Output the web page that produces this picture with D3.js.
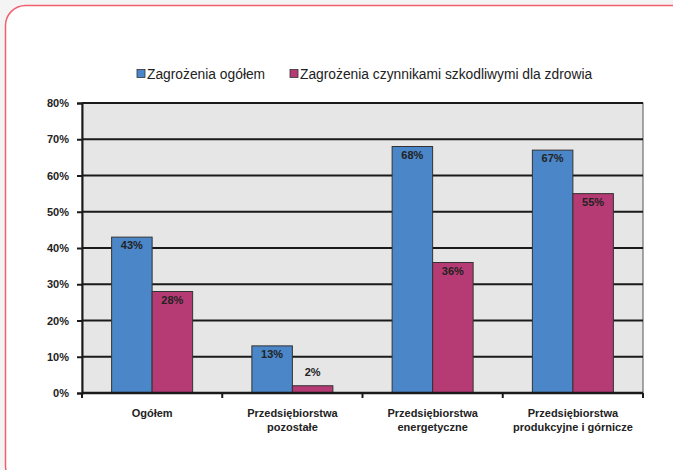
<!DOCTYPE html>
<html>
<head>
<meta charset="utf-8">
<script src="https://cdn.jsdelivr.net/npm/d3@7"></script>
<style>
  body { margin: 0; background: #f4f4f4; }
  svg { display: block; font-family: "Liberation Sans", Arial, sans-serif; }
</style>
</head>
<body>
<div id="chart"></div>
<script>
const categories = [
    ["Ogółem"],
    ["Przedsiębiorstwa", "pozostałe"],
    ["Przedsiębiorstwa", "energetyczne"],
    ["Przedsiębiorstwa", "produkcyjne i górnicze"]
];
const seriesNames = ["Zagrożenia ogółem", "Zagrożenia czynnikami szkodliwymi dla zdrowia"];
const ogolem = [43, 13, 68, 67];
const szkodliwe = [28, 2, 36, 55];
const yTicks = [0, 10, 20, 30, 40, 50, 60, 70, 80];
const colors = ["#4a86c8", "#b63a73"];

const width = 673, height = 470;
const margin = { top: 103, right: 30, bottom: 77, left: 82 };
const innerW = 643 - margin.left;
const innerH = 393 - margin.top;

const svg = d3.select("#chart").append("svg")
    .attr("width", width)
    .attr("height", height);

// rounded frame
svg.append("rect")
    .attr("x", 5.5).attr("y", 5.5)
    .attr("width", 690).attr("height", 480)
    .attr("rx", 20).attr("ry", 20)
    .attr("fill", "#fff")
    .attr("stroke", "#f0606e")
    .attr("stroke-width", 1.5);

const g = svg.append("g")
    .attr("transform", `translate(${margin.left}, ${margin.top})`);

const x0 = d3.scaleBand()
    .domain(d3.range(categories.length))
    .range([0, innerW]);

const x1 = d3.scaleBand()
    .domain([0, 1])
    .range([0, 81])
    .padding(0);

const y = d3.scaleLinear()
    .domain([0, 80])
    .range([innerH, 0]);

g.append("rect")
    .attr("width", innerW)
    .attr("height", innerH)
    .attr("fill", "#e6e6e6")
    .attr("stroke", "#555")
    .attr("stroke-width", 1);

// gridlines
g.selectAll(".grid")
    .data(yTicks.filter(d => d > 0))
    .enter().append("line")
    .attr("x1", 0).attr("x2", innerW)
    .attr("y1", d => y(d)).attr("y2", d => y(d))
    .attr("stroke", "#1a1a1a")
    .attr("stroke-width", 2);

const data = [];
ogolem.forEach((v, i) => {
    data.push({ cat: i, s: 0, v: v });
    data.push({ cat: i, s: 1, v: szkodliwe[i] });
});

const groupOffset = (x0.bandwidth() - 81) / 2;

g.selectAll(".bar")
    .data(data)
    .enter().append("rect")
    .attr("class", "bar")
    .attr("x", d => x0(d.cat) + groupOffset + x1(d.s))
    .attr("y", d => y(d.v))
    .attr("width", x1.bandwidth())
    .attr("height", d => innerH - y(d.v))
    .attr("fill", d => colors[d.s])
    .attr("stroke", "#333")
    .attr("stroke-width", 1);

g.selectAll(".val")
    .data(data)
    .enter().append("text")
    .attr("x", d => x0(d.cat) + groupOffset + x1(d.s) + x1.bandwidth() / 2)
    .attr("y", d => (innerH - y(d.v)) < 20 ? y(d.v) - 10 : y(d.v) + 12)
    .attr("text-anchor", "middle")
    .attr("font-size", 11)
    .attr("font-weight", "bold")
    .attr("fill", "#222")
    .text(d => d.v + "%");

// y axis
const yAxis = d3.axisLeft(y)
    .tickValues(yTicks)
    .tickSize(5)
    .tickPadding(8)
    .tickFormat(d => d + "%");

g.append("g")
    .attr("class", "y-axis")
    .call(yAxis)
    .call(a => a.select(".domain").attr("stroke", "#1a1a1a").attr("stroke-width", 2))
    .call(a => a.selectAll(".tick line").attr("stroke", "#1a1a1a").attr("stroke-width", 2))
    .call(a => a.selectAll("text")
        .attr("font-size", 11)
        .attr("font-weight", "bold")
        .attr("fill", "#222")
        .style("font-family", "Liberation Sans, Arial, sans-serif"));

// x axis baseline and category separators
g.append("line")
    .attr("x1", 0).attr("x2", innerW)
    .attr("y1", innerH).attr("y2", innerH)
    .attr("stroke", "#1a1a1a")
    .attr("stroke-width", 2.5);

g.selectAll(".sep")
    .data(d3.range(categories.length + 1))
    .enter().append("line")
    .attr("x1", d => d === categories.length ? innerW : x0(d))
    .attr("x2", d => d === categories.length ? innerW : x0(d))
    .attr("y1", innerH).attr("y2", innerH + 5)
    .attr("stroke", "#1a1a1a")
    .attr("stroke-width", 2);

const catLabels = g.selectAll(".cat")
    .data(categories)
    .enter().append("text")
    .attr("text-anchor", "middle")
    .attr("font-size", 11)
    .attr("font-weight", "bold")
    .attr("fill", "#222")
    .attr("transform", (d, i) => `translate(${x0(i) + x0.bandwidth() / 2}, ${innerH + 24})`);

catLabels.selectAll("tspan")
    .data(d => d)
    .enter().append("tspan")
    .attr("x", 0)
    .attr("dy", (d, i) => i === 0 ? 0 : 14)
    .text(d => d);

// legend
const legendX = [137, 290];
const legend = svg.selectAll(".legend")
    .data(seriesNames)
    .enter().append("g")
    .attr("transform", (d, i) => `translate(${legendX[i]}, 74)`);

legend.append("rect")
    .attr("x", 0).attr("y", -4.5)
    .attr("width", 8).attr("height", 8)
    .attr("fill", (d, i) => colors[i])
    .attr("stroke", "#333")
    .attr("stroke-width", 0.8);

legend.append("text")
    .attr("x", 10)
    .attr("y", 5)
    .attr("font-size", 13.8)
    .attr("fill", "#222")
    .text(d => d);
</script>
</body>
</html>
